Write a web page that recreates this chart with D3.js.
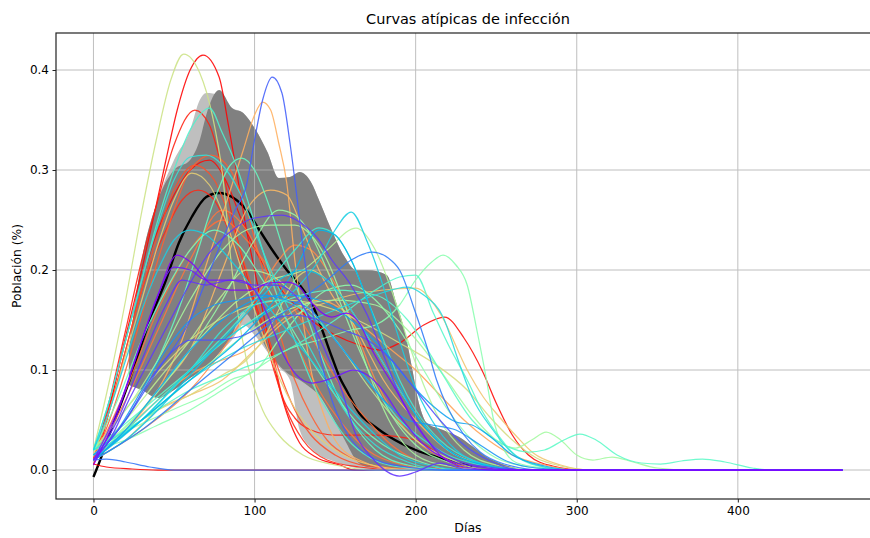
<!DOCTYPE html>
<html><head><meta charset="utf-8">
<script src="https://cdn.jsdelivr.net/npm/d3@7"></script>
<style>body{margin:0;background:#fff} svg{display:block} text{font-family:"DejaVu Sans",sans-serif;fill:#000}</style>
</head><body><svg id="c" width="870" height="538"></svg>
<script>
// ---------- data ----------
const xTicks = [0, 100, 200, 300, 400];
const yTicks = [0.0, 0.1, 0.2, 0.3, 0.4];

const bandDays   = [22,30,40,50,60,66,70,78,86,93,100,108,115,122,128,135,140,147,156,163,170,182,188,194,198,202,207,217,227,235,244,252,262];
const darkUpper  = [0.12,0.21,0.27,0.3,0.31,0.33,0.355,0.38,0.362,0.357,0.342,0.318,0.292,0.293,0.298,0.288,0.27,0.243,0.213,0.2,0.2,0.195,0.167,0.133,0.1,0.067,0.047,0.04,0.033,0.024,0.013,0.007,0.002];
const darkLower  = [0.085,0.08,0.072,0.08,0.092,0.098,0.103,0.117,0.135,0.158,0.145,0.12,0.105,0.095,0.09,0.082,0.075,0.057,0.03,0.01,0.003,0.002,0.002,0.002,0.002,0.002,0.002,0.001,0.001,0.001,0.001,0.001,0.001];
const lightUpper = [0.12,0.21,0.27,0.31,0.34,0.37,0.377,0.375,0.362,0.357,0.342,0.318,0.292,0.293,0.298,0.288,0.27,0.243,0.213,0.2,0.2,0.195,0.167,0.133,0.1,0.067,0.047,0.04,0.033,0.024,0.013,0.007,0.002];
const lightLower = [0.085,0.08,0.072,0.08,0.092,0.098,0.103,0.117,0.13,0.145,0.135,0.118,0.103,0.09,0.04,0.022,0.015,0.01,0.005,0.002,0.001,0.001,0.001,0.001,0.001,0.001,0.001,0.001,0.001,0.001,0.001,0.001,0.001];

const meanDays = [0,3,10,22,35,45,53,61,70,78,86,95,103,111,120,128,136,142,148,153,157,165,175,184,200,215,235];
const meanVals = [-0.007,0.005,0.036,0.088,0.15,0.19,0.227,0.253,0.273,0.277,0.273,0.26,0.24,0.22,0.2,0.185,0.165,0.14,0.113,0.092,0.08,0.057,0.043,0.033,0.02,0.012,0.003];

const redTall = [[0,0.005],[6,0.035],[18,0.12],[30,0.2],[39,0.265],[45,0.31],[52,0.36],[60,0.4],[68,0.415],[78,0.393],[84,0.343],[89,0.297],[95,0.24],[100,0.2],[105,0.16],[110,0.12],[115,0.085],[120,0.057],[128,0.027],[138,0.013],[153,0.005],[162,0],[465,0]];
const red36 = [[0,0.01],[10,0.07],[20,0.14],[30,0.21],[40,0.27],[50,0.325],[63,0.36],[72,0.345],[80,0.3],[88,0.24],[96,0.19],[104,0.15],[110,0.125],[117,0.075],[125,0.052],[135,0.04],[150,0.035],[175,0.035],[200,0.03],[215,0.015],[228,0.003],[245,0],[465,0]];
const red2nd = [[0,0.01],[10,0.065],[20,0.13],[30,0.19],[40,0.24],[50,0.275],[60,0.3],[72,0.31],[82,0.29],[92,0.25],[102,0.215],[112,0.19],[122,0.17],[135,0.15],[150,0.135],[165,0.125],[178,0.12],[190,0.127],[205,0.145],[218,0.153],[230,0.132],[242,0.097],[250,0.067],[260,0.035],[270,0.015],[285,0.004],[305,0],[465,0]];
const redFlat = [[0,0.006],[8,0.003],[24,0.001],[40,0],[465,0]];
const blueFlat = [[0,0.01],[8,0.011],[20,0.008],[35,0.003],[50,0],[465,0]];
const ygTall = [[0,0.02],[10,0.09],[20,0.17],[29,0.25],[39,0.33],[48,0.39],[56,0.416],[66,0.397],[74,0.353],[80,0.297],[86,0.2],[95,0.11],[105,0.06],[115,0.035],[130,0.015],[150,0.005],[175,0],[465,0]];
const blueTall = [[0,0.01],[20,0.05],[40,0.1],[60,0.15],[70,0.19],[80,0.23],[88,0.26],[95,0.285],[100,0.33],[105,0.37],[111,0.393],[117,0.377],[122,0.327],[126,0.277],[130,0.223],[134,0.18],[140,0.12],[148,0.07],[158,0.035],[170,0.015],[190,0.004],[220,0],[465,0]];
const orangeTall = [[0,0.01],[20,0.04],[40,0.08],[55,0.13],[65,0.18],[75,0.23],[85,0.28],[93,0.32],[100,0.355],[105,0.368],[110,0.36],[115,0.327],[120,0.287],[125,0.21],[130,0.15],[135,0.1],[142,0.06],[150,0.03],[165,0.01],[190,0],[465,0]];
const orange28 = [[0,0.01],[20,0.04],[40,0.08],[60,0.12],[80,0.2],[95,0.26],[110,0.28],[120,0.275],[130,0.24],[140,0.2],[150,0.17],[160,0.15],[170,0.12],[180,0.09],[200,0.05],[220,0.02],[240,0.005],[260,0],[465,0]];
const dome = [[0,0.01],[10,0.03],[22,0.07],[39,0.123],[51,0.16],[60,0.187],[70,0.213],[84,0.237],[100,0.252],[117,0.255],[128,0.248],[140,0.23],[148,0.21],[159,0.187],[170,0.155],[180,0.115],[190,0.075],[200,0.045],[210,0.025],[225,0.01],[245,0.003],[270,0],[465,0]];
const cyan258 = [[0,0.01],[30,0.05],[60,0.1],[90,0.14],[110,0.16],[125,0.18],[140,0.21],[150,0.24],[160,0.258],[170,0.228],[178,0.193],[188,0.14],[198,0.09],[210,0.05],[225,0.02],[245,0.005],[270,0],[465,0]];
const yg242 = [[0,0.01],[30,0.06],[60,0.12],[90,0.17],[110,0.19],[130,0.2],[145,0.22],[163,0.242],[175,0.22],[185,0.18],[195,0.13],[205,0.085],[215,0.05],[230,0.02],[250,0.005],[275,0],[465,0]];
const blue218 = [[0,0.01],[30,0.04],[60,0.08],[90,0.12],[120,0.16],[145,0.19],[160,0.21],[173,0.218],[183,0.212],[190,0.2],[200,0.157],[207,0.123],[213,0.09],[220,0.062],[230,0.035],[240,0.018],[255,0.006],[280,0],[465,0]];
const aqua215 = [[0,0.02],[20,0.03],[40,0.045],[60,0.06],[80,0.08],[100,0.1],[120,0.12],[140,0.13],[160,0.14],[175,0.145],[190,0.165],[200,0.19],[210,0.208],[217,0.215],[225,0.205],[232,0.185],[238,0.14],[244,0.09],[248,0.053],[254,0.023],[263,0.007],[280,0.002],[300,0],[465,0]];
const cyan195 = [[0,0.02],[30,0.05],[60,0.08],[90,0.1],[120,0.12],[150,0.15],[175,0.18],[190,0.193],[200,0.195],[211,0.157],[221,0.123],[232,0.09],[242,0.057],[252,0.033],[263,0.013],[280,0.003],[300,0],[465,0]];
const orange182 = [[0,0.01],[20,0.03],[40,0.06],[60,0.075],[80,0.09],[100,0.12],[120,0.15],[140,0.165],[160,0.175],[180,0.18],[200,0.182],[215,0.157],[232,0.1],[242,0.073],[252,0.053],[263,0.033],[273,0.017],[290,0.005],[310,0],[465,0]];
const cyan183 = [[0,0.015],[30,0.05],[60,0.09],[90,0.12],[120,0.14],[150,0.16],[175,0.175],[195,0.183],[205,0.175],[217,0.153],[227,0.107],[235,0.073],[248,0.04],[258,0.02],[275,0.005],[295,0],[465,0]];
const yellowSlow = [[0,0.02],[30,0.08],[60,0.13],[90,0.16],[120,0.17],[150,0.16],[170,0.145],[190,0.127],[211,0.107],[232,0.08],[246,0.053],[260,0.03],[275,0.012],[290,0.004],[310,0],[465,0]];
const purple1 = [[0,0.005],[14,0.053],[28,0.12],[39,0.17],[52,0.215],[61,0.207],[72,0.187],[85,0.18],[97,0.18],[109,0.187],[120,0.188],[128,0.183],[134,0.17],[148,0.153],[157,0.157],[165,0.147],[173,0.12],[186,0.085],[195,0.06],[205,0.035],[215,0.015],[230,0.003],[250,0],[465,0]];
const purple2 = [[0,0.01],[15,0.06],[30,0.13],[40,0.175],[50,0.203],[60,0.2],[70,0.19],[80,0.19],[90,0.19],[100,0.18],[108,0.155],[118,0.115],[128,0.092],[136,0.087],[150,0.093],[161,0.1],[170,0.095],[178,0.083],[192,0.05],[204,0.027],[220,0.01],[240,0.003],[260,0],[465,0]];
const purple3 = [[0,0.01],[15,0.05],[30,0.11],[45,0.165],[55,0.19],[70,0.185],[85,0.19],[100,0.185],[113,0.185],[125,0.175],[135,0.15],[145,0.115],[153,0.085],[163,0.035],[173,0.012],[190,-0.006],[200,-0.002],[215,0.007],[230,0.001],[250,0],[465,0]];
const purple4 = [[0,0.01],[20,0.05],[35,0.09],[50,0.12],[60,0.13],[75,0.13],[90,0.133],[100,0.14],[110,0.15],[125,0.155],[140,0.15],[155,0.14],[170,0.13],[185,0.11],[200,0.08],[215,0.05],[230,0.025],[245,0.01],[265,0],[465,0]];
const cyan1 = [[0,0.02],[10,0.07],[20,0.13],[30,0.19],[40,0.25],[50,0.3],[60,0.34],[72,0.362],[80,0.337],[89,0.303],[97,0.263],[105,0.22],[115,0.17],[125,0.13],[135,0.09],[145,0.06],[158,0.03],[172,0.012],[190,0.003],[220,0],[465,0]];
const cyan2 = [[0,0.02],[10,0.07],[20,0.13],[30,0.19],[40,0.245],[50,0.29],[60,0.313],[70,0.315],[80,0.305],[90,0.28],[100,0.24],[110,0.2],[120,0.165],[130,0.135],[140,0.105],[150,0.075],[160,0.05],[175,0.025],[195,0.008],[220,0],[465,0]];
const aqua3 = [[0,0.015],[20,0.05],[40,0.11],[55,0.17],[65,0.22],[75,0.27],[85,0.305],[92,0.312],[100,0.3],[110,0.26],[120,0.21],[130,0.165],[140,0.12],[150,0.08],[160,0.05],[175,0.02],[195,0.005],[220,0],[465,0]];
const green4 = [[0,0.015],[30,0.06],[60,0.12],[80,0.17],[100,0.23],[115,0.26],[125,0.255],[135,0.235],[145,0.2],[155,0.16],[165,0.12],[175,0.085],[185,0.055],[200,0.025],[220,0.008],[245,0],[465,0]];
const cyan5 = [[0,0.015],[30,0.05],[60,0.1],[90,0.15],[110,0.19],[125,0.22],[140,0.242],[150,0.235],[160,0.21],[170,0.17],[180,0.13],[190,0.09],[200,0.06],[215,0.03],[235,0.01],[260,0],[465,0]];
const green6 = [[0,0.02],[20,0.06],[40,0.11],[60,0.17],[80,0.22],[95,0.24],[110,0.245],[125,0.245],[135,0.235],[145,0.21],[155,0.17],[165,0.125],[175,0.08],[185,0.045],[200,0.015],[220,0.004],[245,0],[465,0]];
const orange1 = [[0,0.01],[10,0.06],[20,0.12],[30,0.18],[40,0.235],[50,0.28],[63,0.305],[75,0.29],[85,0.25],[95,0.2],[105,0.15],[115,0.1],[125,0.06],[135,0.035],[150,0.015],[170,0.004],[200,0],[465,0]];
const orange2 = [[0,0.015],[10,0.06],[20,0.115],[30,0.17],[40,0.225],[50,0.27],[61,0.297],[72,0.285],[82,0.25],[92,0.2],[102,0.15],[112,0.105],[122,0.07],[135,0.04],[150,0.02],[170,0.006],[200,0],[465,0]];
const orange3 = [[0,0.01],[10,0.05],[20,0.1],[30,0.155],[40,0.21],[50,0.26],[60,0.3],[73,0.315],[85,0.3],[95,0.26],[105,0.2],[115,0.14],[125,0.09],[135,0.055],[145,0.03],[160,0.012],[180,0.003],[210,0],[465,0]];
const orange4 = [[0,0.01],[30,0.04],[60,0.08],[80,0.12],[100,0.17],[115,0.21],[125,0.225],[135,0.22],[145,0.2],[155,0.17],[165,0.13],[175,0.09],[185,0.06],[200,0.03],[220,0.01],[245,0],[465,0]];
const orange5 = [[0,0.01],[20,0.08],[40,0.16],[60,0.22],[70,0.24],[80,0.25],[95,0.23],[110,0.2],[125,0.16],[140,0.12],[155,0.08],[170,0.05],[185,0.025],[200,0.01],[225,0],[465,0]];
const tail1 = [[0,0.02],[30,0.05],[60,0.09],[90,0.13],[120,0.16],[150,0.17],[175,0.165],[195,0.14],[215,0.1],[235,0.055],[250,0.03],[262,0.022],[272,0.03],[281,0.038],[290,0.03],[300,0.015],[310,0.01],[322,0.013],[335,0.008],[350,0.002],[370,0],[465,0]];
const tail2 = [[0,0.02],[30,0.06],[60,0.1],[90,0.14],[120,0.17],[150,0.18],[175,0.175],[195,0.15],[215,0.1],[235,0.05],[255,0.025],[270,0.018],[280,0.02],[292,0.03],[302,0.036],[312,0.03],[325,0.015],[340,0.007],[352,0.006],[365,0.009],[378,0.011],[392,0.008],[409,0.002],[420,0],[465,0]];
const f1 = [[0,0.01],[20,0.07],[40,0.14],[60,0.21],[80,0.26],[95,0.24],[110,0.19],[125,0.13],[140,0.08],[155,0.045],[170,0.02],[190,0.006],[215,0],[465,0]];
const f2 = [[0,0.015],[20,0.05],[40,0.09],[60,0.13],[80,0.175],[95,0.2],[110,0.195],[125,0.175],[140,0.15],[155,0.12],[170,0.085],[185,0.055],[200,0.03],[220,0.012],[245,0],[465,0]];
const f3 = [[0,0.01],[20,0.03],[40,0.06],[60,0.095],[80,0.13],[100,0.165],[115,0.19],[130,0.2],[145,0.19],[160,0.16],[175,0.12],[190,0.08],[205,0.045],[220,0.02],[240,0.006],[265,0],[465,0]];
const f4 = [[0,0.01],[20,0.04],[40,0.08],[60,0.12],[80,0.15],[100,0.17],[120,0.175],[140,0.17],[160,0.15],[180,0.12],[195,0.09],[210,0.065],[225,0.048],[235,0.045],[245,0.035],[260,0.015],[280,0.004],[300,0],[465,0]];
const f5 = [[0,0.02],[15,0.07],[30,0.13],[45,0.18],[60,0.22],[75,0.24],[90,0.225],[105,0.19],[120,0.15],[135,0.11],[150,0.075],[165,0.045],[180,0.025],[200,0.01],[225,0],[465,0]];
const f6 = [[0,0.02],[20,0.04],[40,0.07],[60,0.1],[80,0.14],[100,0.165],[115,0.17],[130,0.16],[145,0.14],[160,0.11],[175,0.08],[190,0.05],[205,0.03],[220,0.015],[240,0.005],[260,0],[465,0]];
const f7 = [[0,0.01],[30,0.05],[60,0.09],[90,0.13],[110,0.165],[125,0.2],[140,0.24],[150,0.235],[160,0.21],[170,0.17],[180,0.125],[190,0.085],[200,0.055],[210,0.035],[225,0.015],[245,0.004],[270,0],[465,0]];
const f8 = [[0,0.01],[10,0.06],[20,0.12],[30,0.18],[45,0.24],[55,0.27],[65,0.28],[75,0.27],[85,0.235],[95,0.19],[105,0.14],[112,0.1],[120,0.06],[130,0.03],[145,0.01],[165,0.003],[190,0],[465,0]];
const f9 = [[0,0.01],[20,0.04],[40,0.07],[55,0.09],[65,0.1],[80,0.11],[95,0.12],[110,0.14],[125,0.16],[140,0.17],[155,0.16],[170,0.14],[185,0.12],[200,0.1],[215,0.075],[230,0.05],[245,0.03],[260,0.015],[280,0.005],[300,0],[465,0]];
const f10 = [[0,0.025],[15,0.035],[35,0.05],[53,0.063],[70,0.075],[85,0.09],[101,0.1],[115,0.13],[130,0.16],[145,0.18],[160,0.185],[175,0.17],[190,0.14],[205,0.1],[220,0.06],[235,0.03],[250,0.012],[270,0.003],[290,0],[465,0]];
const f11 = [[0,0.02],[20,0.04],[40,0.06],[60,0.075],[80,0.095],[95,0.11],[105,0.13],[115,0.16],[125,0.19],[135,0.2],[145,0.19],[160,0.16],[175,0.12],[190,0.08],[205,0.045],[220,0.02],[240,0.006],[260,0],[465,0]];
const f12 = [[0,0.02],[10,0.06],[20,0.11],[30,0.16],[40,0.2],[50,0.23],[60,0.24],[70,0.235],[85,0.21],[100,0.18],[115,0.15],[130,0.12],[145,0.09],[160,0.06],[175,0.035],[190,0.015],[210,0.004],[235,0],[465,0]];
const f13 = [[0,0.015],[15,0.04],[30,0.08],[45,0.12],[60,0.15],[75,0.165],[90,0.17],[105,0.175],[120,0.17],[135,0.16],[150,0.13],[165,0.1],[180,0.07],[195,0.05],[210,0.045],[225,0.04],[240,0.025],[255,0.01],[275,0.002],[300,0],[465,0]];

// colour position in the 'rainbow' colormap for each curve
const curveSeries = [f4, orange28, f9, tail1, purple4, f6, cyan2, f2, orange3, blue218, aqua215, f12, red2nd, f13, yg242, orange1, cyan183, f3, redFlat, purple1, f11, cyan258, orange5, yellowSlow, f7, green4, blueFlat, orange4, red36, f10, purple2, cyan195, aqua3, f1, tail2, dome, orange182, f5, green6, purple3, cyan5, orange2, f8, blueTall, orangeTall, cyan1, redTall, ygTall];
const curveColorT = [0.22, 0.74, 0.78, 0.57, 0.1, 0.36, 0.35, 0.62, 0.88, 0.16, 0.52, 0.3, 0.99, 0.2, 0.6, 0.9, 0.33, 0.28, 1.0, 0.0, 0.68, 0.3, 0.86, 0.67, 0.25, 0.55, 0.15, 0.82, 0.96, 0.53, 0.03, 0.42, 0.45, 0.85, 0.43, 0.07, 0.72, 0.47, 0.58, 0.06, 0.38, 0.7, 0.95, 0.12, 0.76, 0.4, 1.0, 0.65];

// ---------- drawing ----------
const svg = d3.select("#c");
const L = 56, R = 880, T = 33, B = 499;
const x = d3.scaleLinear().domain([-23.25, 488.25]).range([L, R]);
const y = d3.scaleLinear().domain([-0.029, 0.437]).range([B, T]);

function rainbow(t) {
  const r = Math.min(1, Math.abs(2 * t - 0.5));
  const g = Math.max(0, Math.sin(Math.PI * t));
  const b = Math.max(0, Math.cos(Math.PI * t / 2));
  return d3.rgb(r * 255, g * 255, b * 255).formatHex();
}

svg.append("defs").append("clipPath").attr("id", "clip")
  .append("rect").attr("x", L).attr("y", T).attr("width", R - L).attr("height", B - T);

const plot = svg.append("g").attr("clip-path", "url(#clip)");

const area = (up, lo) => d3.area()
  .x((d, i) => x(bandDays[i]))
  .y0((d, i) => y(lo[i]))
  .y1((d, i) => y(up[i]))
  .curve(d3.curveMonotoneX);

plot.append("path").datum(bandDays).attr("d", area(lightUpper, lightLower)).attr("fill", "#bfbfbf");
plot.append("path").datum(bandDays).attr("d", area(darkUpper, darkLower)).attr("fill", "#808080");

// grid
const grid = plot.append("g").attr("stroke", "#b0b0b0").attr("stroke-width", 1).attr("opacity", 0.8);
xTicks.forEach(v => grid.append("line").attr("x1", x(v)).attr("x2", x(v)).attr("y1", T).attr("y2", B));
yTicks.forEach(v => grid.append("line").attr("y1", y(v)).attr("y2", y(v)).attr("x1", L).attr("x2", R));

// mean curve
const meanLine = d3.line().x((d, i) => x(meanDays[i])).y(d => y(d)).curve(d3.curveMonotoneX);
plot.append("path").datum(meanVals).attr("d", meanLine)
  .attr("fill", "none").attr("stroke", "#000").attr("stroke-width", 2.4);

// individual curves: red end of the colormap first, purple end last
const line = d3.line().x(d => x(d[0])).y(d => y(d[1])).curve(d3.curveMonotoneX);
const order = d3.range(curveSeries.length).sort((a, b) => curveColorT[b] - curveColorT[a]);
order.forEach(i => {
  plot.append("path").datum(curveSeries[i]).attr("d", line)
    .attr("fill", "none").attr("stroke", rainbow(curveColorT[i]))
    .attr("stroke-width", 1.25).attr("stroke-opacity", 0.88);
});

// frame
svg.append("rect").attr("x", L).attr("y", T).attr("width", R - L).attr("height", B - T)
  .attr("fill", "none").attr("stroke", "#222").attr("stroke-width", 1.2);

// axes
const xa = svg.append("g").attr("transform", `translate(0,${B})`)
  .call(d3.axisBottom(x).tickValues(xTicks).tickFormat(d3.format("d")).tickSize(3.5).tickPadding(3.5));
const ya = svg.append("g").attr("transform", `translate(${L},0)`)
  .call(d3.axisLeft(y).tickValues(yTicks).tickFormat(d3.format(".1f")).tickSize(3.5).tickPadding(3.5));
[xa, ya].forEach(a => {
  a.select(".domain").remove();
  a.selectAll("line").attr("stroke", "#222");
  a.selectAll("text").attr("font-family", "DejaVu Sans").attr("font-size", 12).attr("fill", "#000");
});

svg.append("text").attr("x", (L + R) / 2).attr("y", 24).attr("text-anchor", "middle")
  .attr("font-size", 14.5).text("Curvas atípicas de infección");
svg.append("text").attr("x", (L + R) / 2).attr("y", 532).attr("text-anchor", "middle")
  .attr("font-size", 12.5).text("Días");
svg.append("text").attr("transform", `translate(21,${(T + B) / 2}) rotate(-90)`).attr("text-anchor", "middle")
  .attr("font-size", 12.3).text("Población (%)");
</script></body></html>
